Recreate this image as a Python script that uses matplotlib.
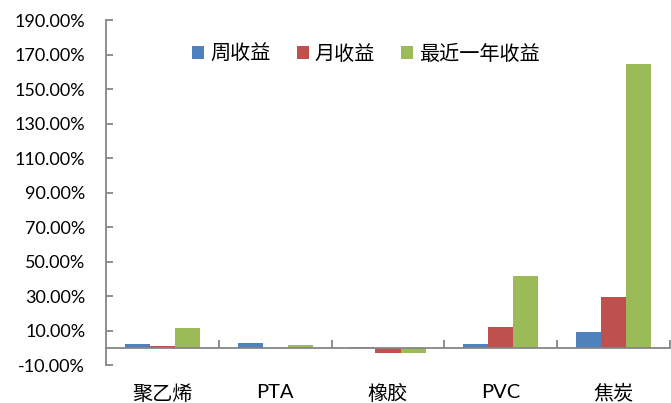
import matplotlib
matplotlib.use('Agg')
import numpy as np
import matplotlib.pyplot as plt
from matplotlib.ticker import FixedLocator, FuncFormatter

plt.rcParams['font.family'] = ['Lato', 'Noto Sans CJK SC', 'DejaVu Sans']

# data (percent)
categories = ['聚乙烯', 'PTA', '橡胶', 'PVC', '焦炭']
series_names = ['周收益', '月收益', '最近一年收益']
weekly = [2.0, 2.7, 0.6, 2.1, 9.0]
monthly = [1.2, 0.0, -3.1, 12.1, 29.4]
yearly = [11.3, 1.8, -3.0, 41.5, 164.7]
colors = ['#4F81BD', '#C0504D', '#9BBB59']
yticks = np.arange(-10, 191, 20)

axis_gray = '#868686'

fig = plt.figure(figsize=(6.71, 4.03), dpi=100)
ax = fig.add_axes([0.158, 0.094, 0.8405, 0.856])

x = np.arange(len(categories))
w = 0.222
for i, (vals, name, c) in enumerate(zip([weekly, monthly, yearly], series_names, colors)):
    ax.bar(x + (i - 1) * w, vals, w, color=c, label=name, edgecolor='none')

ax.set_xlim(-0.5, len(categories) - 0.5)
ax.set_ylim(-10, 190)

ax.spines['top'].set_visible(False)
ax.spines['right'].set_visible(False)
ax.spines['bottom'].set_position(('data', 0))
for s in ['left', 'bottom']:
    ax.spines[s].set_color(axis_gray)
    ax.spines[s].set_linewidth(1.3)

ax.set_yticks(yticks)
ax.yaxis.set_major_formatter(FuncFormatter(lambda v, p: '{:.2f}%'.format(v)))
ax.tick_params(axis='y', direction='in', length=5, width=1.3, color=axis_gray,
               labelsize=13, pad=15, labelcolor='black')

# category boundaries as major ticks, names as minor ticks
ax.xaxis.set_major_locator(FixedLocator(np.arange(0.5, len(categories), 1.0)))
ax.xaxis.set_major_formatter(FuncFormatter(lambda v, p: ''))
ax.xaxis.set_minor_locator(FixedLocator(x))
ax.set_xticklabels(categories, minor=True)
ax.tick_params(axis='x', which='major', direction='in', length=6, width=1.3, color=axis_gray)
ax.tick_params(axis='x', which='minor', length=0, pad=26, labelsize=14.5)

leg = ax.legend(loc='upper center', bbox_to_anchor=(0.461, 0.985), ncol=3, frameon=False,
                fontsize=14.5, handlelength=0.6, handleheight=0.6, handletextpad=0.3,
                columnspacing=1.3)

fig.savefig('out.png', dpi=100)
